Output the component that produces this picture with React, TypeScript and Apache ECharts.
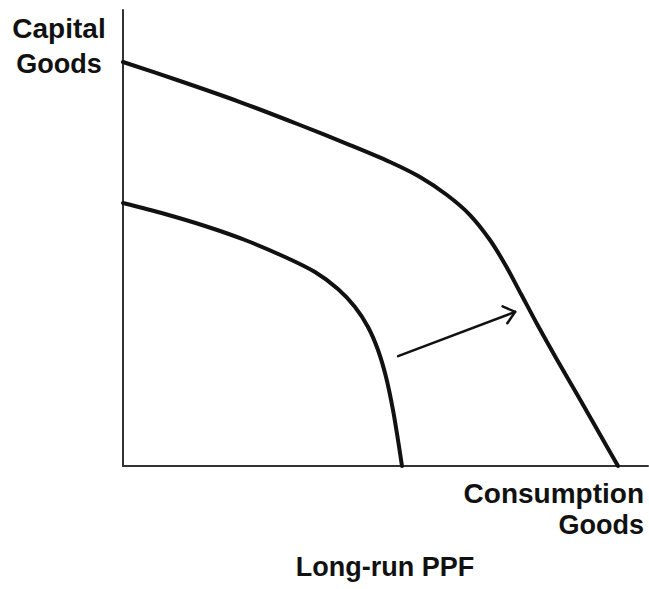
import React, { useEffect, useRef } from "react";
import * as echarts from "echarts";

// Conceptual diagram units: x (consumption goods) 0..100, y (capital goods) 0..100
const outerPPF: [number, number][] = [
  [0, 88.6], [10.86, 84.43], [22.29, 79.82], [33.71, 74.78], [43.24, 70.39], [50.86, 66.67],
  [56.57, 63.38], [61.71, 59.43], [66.1, 55.04], [69.9, 49.56], [72.95, 43.86], [75.81, 37.72],
  [78.86, 31.14], [82.48, 23.68], [86.67, 15.35], [90.48, 7.68], [94.29, 0],
];
const innerPPF: [number, number][] = [
  [0, 57.68], [8.0, 55.26], [15.62, 52.63], [23.24, 49.56], [30.86, 45.83], [36.57, 42.54],
  [40.95, 38.82], [44.19, 34.87], [46.67, 30.48], [48.57, 25.44], [50.1, 19.52], [51.43, 12.28],
  [52.38, 5.7], [53.14, 0],
];
const arrowShaft: [number, number][] = [[52.4, 24.1], [74.7, 33.8]];
const arrowHead: [number, number][] = [[72.3, 35.0], [74.7, 33.8], [73.2, 31.3]];

const yAxisTitle = ["Capital", "Goods"];
const xAxisTitle = ["Consumption", "Goods"];
const chartTitle = "Long-run PPF";

export default function App() {
  const ref = useRef<HTMLDivElement>(null);
  useEffect(() => {
    if (!ref.current) return;
    const chart = echarts.init(ref.current, null, { renderer: "svg" });
    const font = "'Liberation Sans', Arial, Helvetica, sans-serif";
    const textStyle = (s: string, x: number, y: number, align: string, size = 28) => ({
      type: "text",
      x,
      y,
      style: {
        text: s,
        fill: "#111",
        font: `bold ${size}px ${font}`,
        textAlign: align,
        textVerticalAlign: "middle",
      },
    });
    const lineSeries = (data: [number, number][], width: number, smooth: number | boolean) => ({
      type: "line",
      data,
      smooth,
      symbol: "none",
      clip: false,
      silent: true,
      lineStyle: { color: "#111", width, cap: "round", join: "round" },
    });
    chart.setOption({
      animation: false,
      backgroundColor: "#fff",
      grid: { left: 123, top: 10, width: 525, height: 456 },
      xAxis: {
        type: "value",
        min: 0,
        max: 100,
        axisLine: { show: true, lineStyle: { color: "#333", width: 2 } },
        axisTick: { show: false },
        axisLabel: { show: false },
        splitLine: { show: false },
      },
      yAxis: {
        type: "value",
        min: 0,
        max: 100,
        axisLine: { show: true, lineStyle: { color: "#333", width: 2 } },
        axisTick: { show: false },
        axisLabel: { show: false },
        splitLine: { show: false },
      },
      series: [
        lineSeries(outerPPF, 4, 0.3),
        lineSeries(innerPPF, 4, 0.3),
        lineSeries(arrowShaft, 2.5, false),
        lineSeries(arrowHead, 2.5, false),
      ],
      graphic: [
        textStyle(yAxisTitle[0], 59, 28, "center"),
        textStyle(yAxisTitle[1], 59, 64, "center", 27),
        textStyle(xAxisTitle[0], 644, 493, "right"),
        textStyle(xAxisTitle[1], 644, 525, "right", 27),
        textStyle(chartTitle, 385, 567, "center", 27),
      ],
    });
    return () => chart.dispose();
  }, []);
  return <div ref={ref} style={{ width: 649, height: 589, position: "absolute", left: 0, top: 0 }} />;
}
